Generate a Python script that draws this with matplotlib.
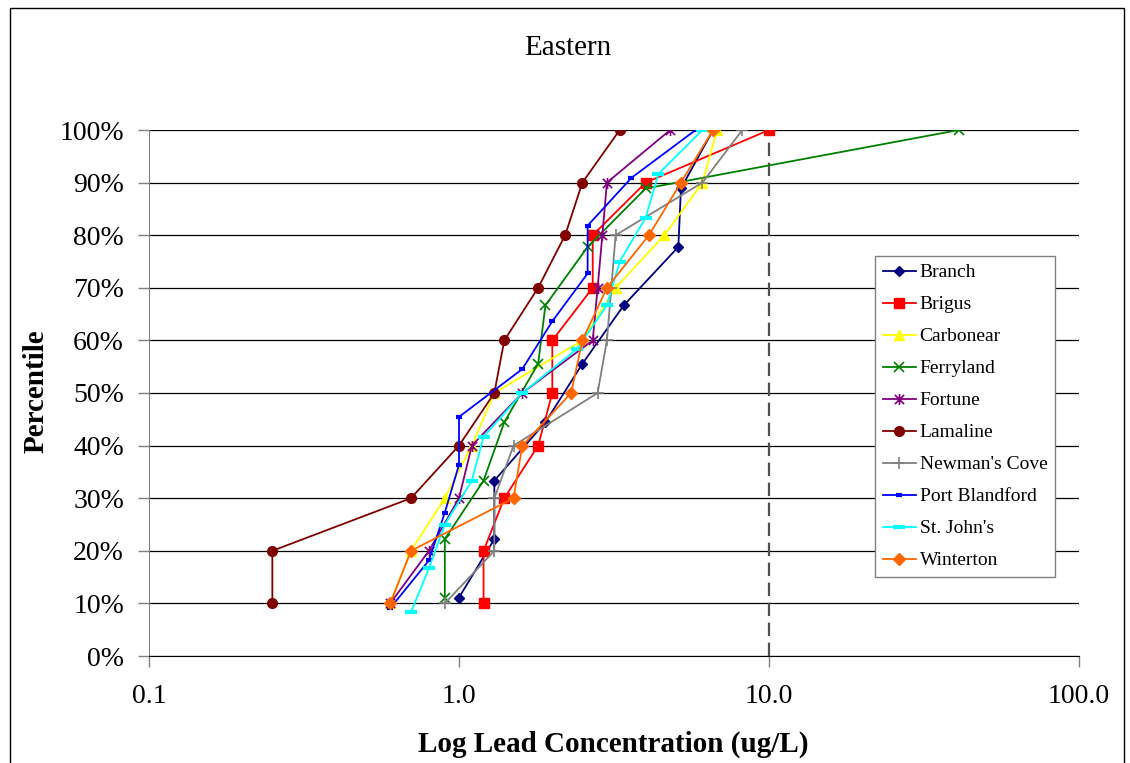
import matplotlib
matplotlib.use("Agg")
import matplotlib.pyplot as plt
from matplotlib.path import Path
from matplotlib.patches import Rectangle

plt.rcParams['font.family'] = ['Liberation Serif', 'DejaVu Serif']

# lead concentrations (ug/L), sorted, per community
branch = [1.0, 1.3, 1.3, 1.9, 2.5, 3.4, 5.1, 5.2, 6.6]
brigus = [1.2, 1.2, 1.4, 1.8, 2.0, 2.0, 2.7, 2.7, 4.0, 10.0]
carbonear = [0.6, 0.7, 0.9, 1.1, 1.3, 2.5, 3.2, 4.6, 6.1, 6.8]
ferryland = [0.9, 0.9, 1.2, 1.4, 1.8, 1.9, 2.6, 4.0, 41.0]
fortune = [0.6, 0.8, 1.0, 1.1, 1.6, 2.7, 2.8, 2.9, 3.0, 4.8]
lamaline = [0.25, 0.25, 0.7, 1.0, 1.3, 1.4, 1.8, 2.2, 2.5, 3.3]
newmans_cove = [0.9, 1.3, 1.3, 1.5, 2.8, 3.0, 3.1, 3.2, 6.1, 8.2]
port_blandford = [0.6, 0.8, 0.9, 1.0, 1.0, 1.6, 2.0, 2.6, 2.6, 3.6, 5.8]
st_johns = [0.7, 0.8, 0.9, 1.1, 1.2, 1.6, 2.4, 3.0, 3.3, 4.0, 4.4, 6.1]
winterton = [0.6, 0.7, 1.5, 1.6, 2.3, 2.5, 3.0, 4.1, 5.2, 6.6]

guideline = 10.0
x_ticks = [0.1, 1.0, 10.0, 100.0]
x_tick_labels = ["0.1", "1.0", "10.0", "100.0"]
y_ticks = list(range(0, 101, 10))

# excel style star marker: x with a vertical bar
star = Path([(-1, -1), (1, 1), (-1, 1), (1, -1), (0, -1.2), (0, 1.2)],
            [Path.MOVETO, Path.LINETO, Path.MOVETO, Path.LINETO, Path.MOVETO, Path.LINETO])

series = [
    ("Branch", branch, "#000080", dict(marker="D", ms=5.5)),
    ("Brigus", brigus, "#FF0000", dict(marker="s", ms=7)),
    ("Carbonear", carbonear, "#FFFF00", dict(marker="^", ms=7.5)),
    ("Ferryland", ferryland, "#008000", dict(marker="x", ms=7, mew=1.2)),
    ("Fortune", fortune, "#800080", dict(marker=star, ms=8, mew=1.2)),
    ("Lamaline", lamaline, "#800000", dict(marker="o", ms=7)),
    ("Newman's Cove", newmans_cove, "#808080", dict(marker="+", ms=9, mew=1.2)),
    ("Port Blandford", port_blandford, "#0000FF", dict(marker="_", ms=5, mew=3)),
    ("St. John's", st_johns, "#00FFFF", dict(marker="_", ms=8, mew=3)),
    ("Winterton", winterton, "#FF6600", dict(marker="D", ms=6.5)),
]

fig = plt.figure(figsize=(11.3, 7.63), dpi=100)
ax = fig.add_axes([149 / 1130, 1 - 656 / 763, 930 / 1130, 526 / 763])

for y in y_ticks:
    ax.axhline(y, color="black", lw=0.9, zorder=1)

ax.plot([guideline, guideline], [0, 100], color="#505050", lw=1.6,
        dashes=(6, 3), zorder=2)

for name, vals, col, mk in series:
    n = len(vals)
    pct = [100.0 * (i + 1) / n for i in range(n)]
    ax.plot(vals, pct, color=col, lw=1.3, label=name, mec=col, mfc=col,
            zorder=3, **mk)

ax.set_xscale("log")
ax.set_xlim(0.1, 100)
ax.set_ylim(0, 100)
ax.set_xticks(x_ticks)
ax.set_xticklabels(x_tick_labels)
ax.xaxis.set_minor_locator(matplotlib.ticker.NullLocator())
ax.set_yticks(y_ticks)
ax.set_yticklabels([f"{v}%" for v in y_ticks])

for s in ["top", "right"]:
    ax.spines[s].set_visible(False)
ax.spines["left"].set_color("#808080")
ax.spines["bottom"].set_color("black")
ax.tick_params(axis="both", colors="#808080", labelcolor="black",
               labelsize=20, length=8, width=1)
ax.tick_params(axis="x", pad=12)
ax.tick_params(axis="y", pad=10)
ax.patch.set_alpha(0)

leg = ax.legend(loc="upper left", bbox_to_anchor=((875 - 149) / 930, (656 - 256) / 526),
                fontsize=14, numpoints=1, frameon=True, fancybox=False,
                edgecolor="#808080", framealpha=1, borderpad=0.4,
                labelspacing=0.74, handlelength=1.7, handletextpad=0.2,
                borderaxespad=0)
leg.get_frame().set_linewidth(1)

fig.text(568 / 1130, 1 - 48 / 763, "Eastern", ha="center", va="center", fontsize=21)
fig.text(613 / 1130, 1 - 744 / 763, "Log Lead Concentration (ug/L)", ha="center",
         va="center", fontsize=21, fontweight="bold")
fig.text(36 / 1130, 1 - 391 / 763, "Percentile", ha="center", va="center",
         rotation=90, fontsize=21, fontweight="bold")

fig.patches.append(Rectangle((10 / 1130, -0.05), 1114 / 1130, 1.05 - 8 / 763,
                             transform=fig.transFigure, fill=False,
                             edgecolor="black", lw=1))

fig.savefig("out.png", dpi=100)
